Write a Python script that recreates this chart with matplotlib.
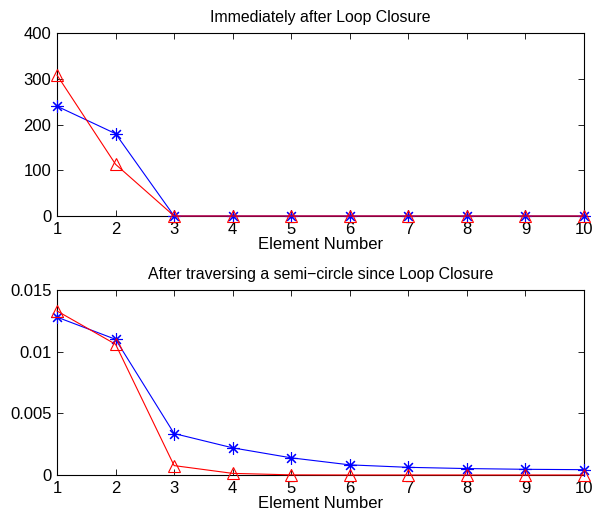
import matplotlib.pyplot as plt

elements = list(range(1, 11))

# immediately after loop closure
top_blue = [240, 180, 0, 0, 0, 0, 0, 0, 0, 0]
top_red = [308, 113, 0, 0, 0, 0, 0, 0, 0, 0]

# after a semi-circle
bot_blue = [0.0128, 0.0110, 0.00336, 0.0022, 0.00139, 0.00082, 0.00062, 0.00052, 0.00046, 0.00043]
bot_red = [0.0133, 0.0106, 0.00076, 0.00013, 0.00001, 0, 0, 0, 0, 0]

plt.rcParams['font.family'] = ['Liberation Sans', 'DejaVu Sans']
plt.rcParams['font.size'] = 12

fig = plt.figure(figsize=(5.92, 5.16), dpi=100)
ax1 = fig.add_axes([0.0963, 0.5814, 0.8902, 0.3546])
ax2 = fig.add_axes([0.0963, 0.0795, 0.8902, 0.3585])

for ax, blue, red, title, ylim, yticks, ylabels in [
    (ax1, top_blue, top_red, 'Immediately after Loop Closure', (0, 400),
     [0, 100, 200, 300, 400], ['0', '100', '200', '300', '400']),
    (ax2, bot_blue, bot_red, 'After traversing a semi\u2212circle since Loop Closure', (0, 0.015),
     [0, 0.005, 0.01, 0.015], ['0', '0.005', '0.01', '0.015']),
]:
    ax.plot(elements, blue, color='blue', marker=(8, 2, 0), markersize=9, lw=0.8,
            markeredgewidth=0.8, clip_on=False, zorder=3)
    ax.plot(elements, red, color='red', marker='^', markersize=9, lw=0.8,
            markerfacecolor='none', markeredgewidth=0.8, clip_on=False, zorder=3)
    ax.set_xlim(1, 10)
    ax.set_ylim(*ylim)
    ax.set_xticks(elements)
    ax.set_yticks(yticks)
    ax.set_yticklabels(ylabels)
    ax.tick_params(direction='in', top=True, right=True, length=4, width=0.6, pad=4)
    for s in ax.spines.values():
        s.set_linewidth(0.8)
    ax.set_title(title, fontsize=11.4, pad=8)
    ax.set_xlabel('Element Number', labelpad=0)

plt.savefig('out.png', dpi=100)
